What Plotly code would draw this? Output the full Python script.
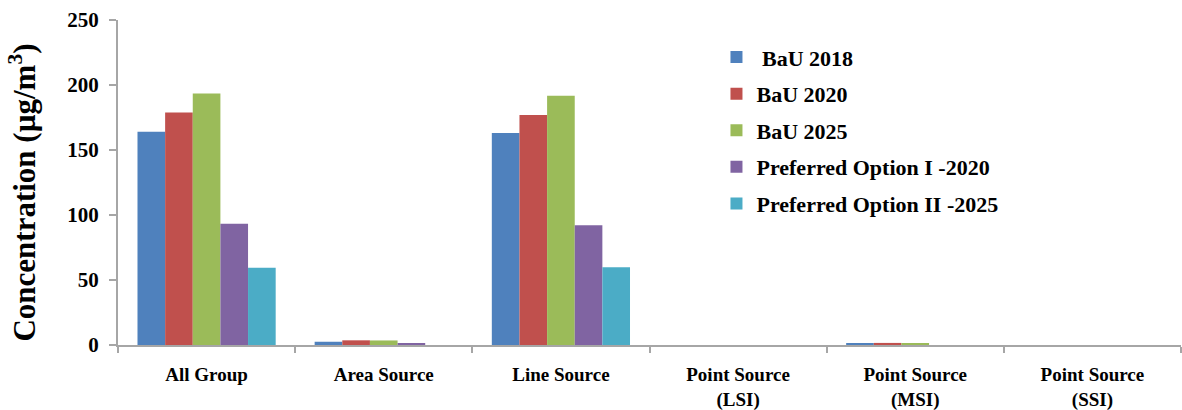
import plotly.graph_objects as go

categories = ["All Group", "Area Source", "Line Source",
              "Point Source<br>(LSI)", "Point Source<br>(MSI)", "Point Source<br>(SSI)"]

bau_2018 = [164.0, 2.5, 163.0, 0.0, 1.5, 0.0]
bau_2020 = [178.9, 3.6, 176.9, 0.0, 1.6, 0.0]
bau_2025 = [193.5, 3.5, 191.7, 0.0, 1.4, 0.0]
option_1_2020 = [93.2, 1.5, 92.2, 0.0, 0.0, 0.0]
option_2_2025 = [59.5, 0.0, 59.8, 0.0, 0.0, 0.0]

series_names = [" BaU 2018", "BaU 2020", "BaU 2025",
                "Preferred Option I -2020", "Preferred Option II -2025"]
series_values = [bau_2018, bau_2020, bau_2025, option_1_2020, option_2_2025]
colors = ["#4F81BD", "#C0504D", "#9BBB59", "#8064A2", "#4BACC6"]

font_family = "Liberation Serif, Times New Roman, serif"

fig = go.Figure()
for i, (name, vals, col) in enumerate(zip(series_names, series_values, colors)):
    fig.add_trace(go.Bar(
        x=categories, y=vals, name=name,
        marker=dict(color=col, line=dict(width=0)),
        legendgroup=f"g{i}",
    ))

# rotated axis title placed as an annotation so it can sit slightly below centre
fig.add_annotation(
    text="Concentration (µg/m<sup>3</sup>)",
    xref="paper", yref="paper", x=-0.090, y=0.47,
    xanchor="center", yanchor="middle", textangle=-90, showarrow=False,
    font=dict(size=31, family=font_family, color="black", weight="bold"),
)

fig.update_layout(
    width=1182, height=410,
    margin=dict(l=118, r=1, t=20, b=65),
    plot_bgcolor="white", paper_bgcolor="white",
    barmode="group", bargap=0.22, bargroupgap=0,
    font=dict(family=font_family, color="black"),
    legend=dict(
        x=0.563, y=0.95, xanchor="left", yanchor="top",
        font=dict(size=22, family=font_family, color="black", weight="bold"),
        tracegroupgap=5, itemwidth=30,
        bgcolor="rgba(0,0,0,0)",
    ),
    xaxis=dict(
        showline=True, linecolor="#A6A6A6", linewidth=2,
        ticks="outside", tickson="boundaries", ticklen=6, tickcolor="#A6A6A6", tickwidth=2,
        tickfont=dict(size=19, family=font_family, color="black", weight="bold"),
        ticklabelstandoff=11, automargin=False,
        showgrid=False, zeroline=False,
    ),
    yaxis=dict(
        range=[0, 250], dtick=50,
        showline=True, linecolor="#A6A6A6", linewidth=2,
        ticks="outside", ticklen=7, tickcolor="#A6A6A6", tickwidth=2,
        tickfont=dict(size=21, family=font_family, color="black", weight="bold"),
        ticklabelstandoff=6, automargin=False,
        showgrid=False, zeroline=False,
    ),
)

fig.write_html("out.html")
